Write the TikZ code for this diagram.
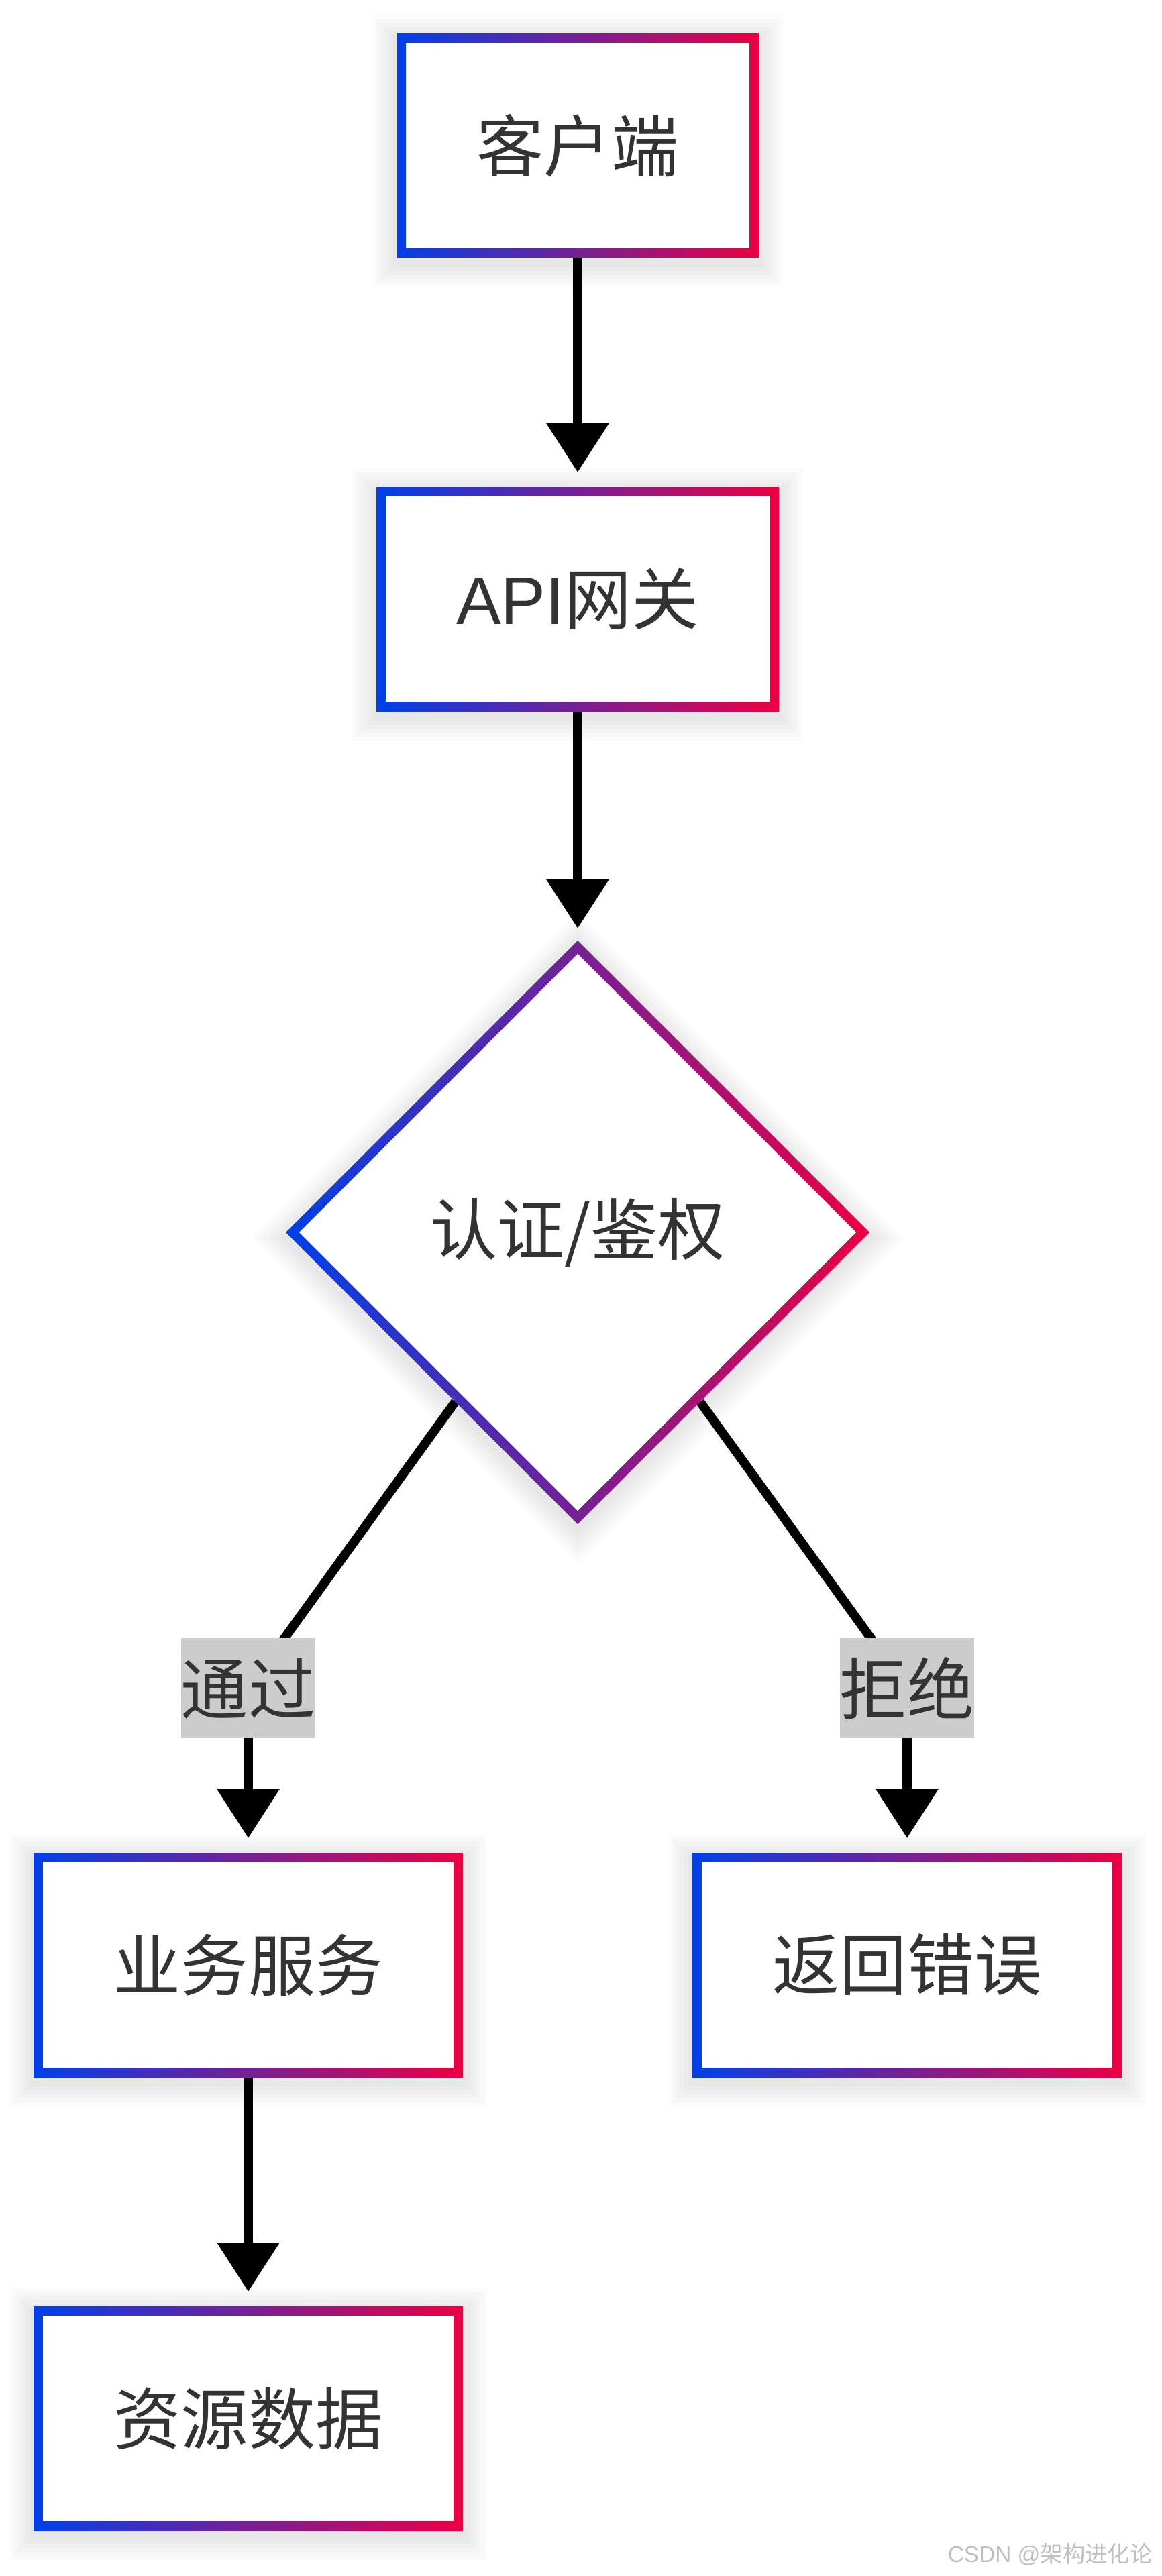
\documentclass[tikz,border=0pt]{standalone}
\usepackage{fontspec}
\newfontfamily\cjk{Noto Sans CJK SC}
\newfontfamily\latin{Liberation Sans}
\usepackage{tikz}
\usetikzlibrary{shapes.geometric, arrows.meta, backgrounds}
\usetikzlibrary{positioning}
\definecolor{rimblue}{HTML}{0040E8}
\definecolor{rimred}{HTML}{EB0042}
\definecolor{ink}{HTML}{333333}
\def\rim{0.14cm}
\tikzstyle{haze} = [preaction={draw=black, opacity=0.016, line width=0.72cm, transform canvas={yshift=-0.08cm}}, preaction={draw=black, opacity=0.016, line width=0.6cm, transform canvas={yshift=-0.08cm}}, preaction={draw=black, opacity=0.016, line width=0.48cm, transform canvas={yshift=-0.08cm}}, preaction={draw=black, opacity=0.016, line width=0.36cm, transform canvas={yshift=-0.08cm}}, preaction={draw=black, opacity=0.016, line width=0.24cm, transform canvas={yshift=-0.08cm}}, preaction={draw=black, opacity=0.016, line width=0.12cm, transform canvas={yshift=-0.08cm}}]
\tikzstyle{stage} = [rectangle, haze, minimum width=6.40cm, minimum height=3.34cm, inner sep=0pt, outer sep=0pt, left color=rimblue, right color=rimred, text=ink, font=\cjk\fontsize{28.5}{34}\selectfont, path picture={\fill[white] ([shift={(\rim,\rim)}]path picture bounding box.south west) rectangle ([shift={(-\rim,-\rim)}]path picture bounding box.north east);}]
\tikzstyle{check} = [diamond, haze, aspect=1, minimum width=8.70cm, minimum height=8.70cm, inner sep=0pt, outer sep=0pt, left color=rimblue, right color=rimred, text=ink, font=\cjk\fontsize{28.5}{34}\selectfont, path picture={\fill[white] ([yshift=-1.414*\rim]path picture bounding box.north) -- ([xshift=-1.414*\rim]path picture bounding box.east) -- ([yshift=1.414*\rim]path picture bounding box.south) -- ([xshift=1.414*\rim]path picture bounding box.west) -- cycle;}]
\tikzstyle{tag} = [rectangle, fill=black!20, text=ink, minimum width=1.99cm, minimum height=1.49cm, inner sep=0pt, font=\cjk\fontsize{28.5}{34}\selectfont]
\tikzstyle{link} = [line width=0.135cm]
\tikzstyle{arrow} = [link, -{Triangle[length=0.73cm, width=0.90cm]}, shorten >=0.22cm]

\begin{document}
\begin{tikzpicture}[node distance=3.42cm]
        \useasboundingbox (0,0) rectangle (17.31,-38.40);
        \node (client) [stage, minimum width=5.40cm] at (8.61,-2.17) {客户端};
        \node (gateway) [stage, minimum width=6.00cm, below=of client] {{\latin API}网关};
        \node (auth) [check, below=of gateway] {认证/鉴权};
        \node (business) [stage, below=4.90cm of auth, xshift=-4.91cm] {业务服务};
        \node (error) [stage, below=4.90cm of auth, xshift=4.91cm] {返回错误};
        \node (resource) [stage, below=of business] {资源数据};
        \node (pass) [tag, above=1.70cm of business] {通过};
        \node (deny) [tag, above=1.70cm of error] {拒绝};
        \node (mark) [anchor=east, text=black!25, font=\cjk\fontsize{9.5}{11}\selectfont] at (17.30,-38.08) {{\latin CSDN @}架构进化论};

        \begin{scope}[on background layer]
        \draw [arrow] (client) -- (gateway);
        \draw [arrow, shorten >=0.18cm] (gateway) -- (auth);
        \draw [link] (auth) -- (pass.center);
        \draw [arrow] (pass.center) -- (business);
        \draw [link] (auth) -- (deny.center);
        \draw [arrow] (deny.center) -- (error);
        \draw [arrow] (business) -- (resource);
        \end{scope}
\end{tikzpicture}
\end{document}
